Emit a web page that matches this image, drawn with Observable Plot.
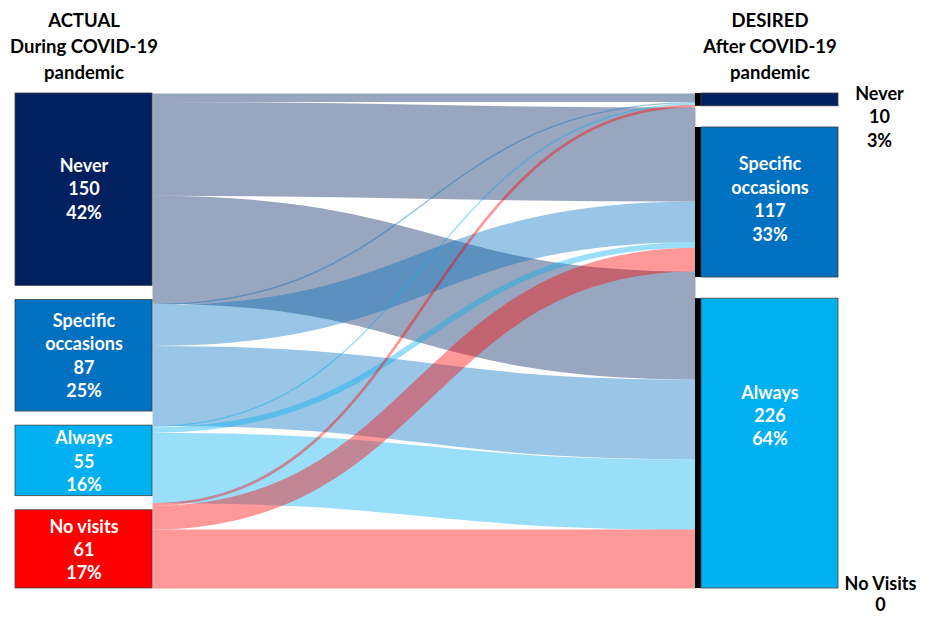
<!DOCTYPE html>
<html><head><meta charset="utf-8">
<script src="https://cdn.jsdelivr.net/npm/d3@7"></script>
<script src="https://cdn.jsdelivr.net/npm/@observablehq/plot@0.6"></script>
<style>body{margin:0;background:#fff;}</style>
</head><body><div id="chart"></div>
<script>
// ---- data ----
const actualLabels = ["Never", "Specific\noccasions", "Always", "No visits"];
const actualCounts = [150, 87, 55, 61];
const actualPct = ["42%", "25%", "16%", "17%"];
const desiredLabels = ["Never", "Specific\noccasions", "Always", "No Visits"];
const desiredCounts = [10, 117, 226, 0];
const desiredPct = ["3%", "33%", "64%", ""];
const categoryColors = ["#002060", "#0070C0", "#00B0F0", "#FF0000"];
// flows from each ACTUAL category to DESIRED [Never, Specific, Always, No Visits]
const flowFromNever = [6, 67, 77, 0];
const flowFromSpecific = [1, 29, 57, 0];
const flowFromAlways = [1, 4, 50, 0];
const flowFromNoVisits = [2, 17, 42, 0];
const headerActual = "ACTUAL\nDuring COVID-19\npandemic";
const headerDesired = "DESIRED\nAfter COVID-19\npandemic";

// ---- layout ----
const W = 933, H = 618, mt = 93, mb = 30, ml = 15, mr = 95;
const gap = 11;           // gap between nodes, in respondent units
const nw = 0.1665;        // node width (fraction of x range)
const sw = 0.0073;        // black strip width
const flows = [flowFromNever, flowFromSpecific, flowFromAlways, flowFromNoVisits];
const total = d3.sum(actualCounts);

let acc = 0;
const leftNodes = actualCounts.map((v, i) => {
  const n = {y1: acc, y2: acc + v, color: categoryColors[i],
    label: `${actualLabels[i]}\n${v}\n${actualPct[i]}`};
  acc += v + gap;
  return n;
});
const D = acc - gap;
const nonZeroRight = desiredCounts.filter(v => v > 0).length;
const gapR = (D - total) / (nonZeroRight - 1);
acc = 0;
const rightNodes = desiredCounts.map((v, i) => {
  if (i > 0 && v > 0) acc += gapR;
  const n = {y1: acc, y2: acc + v, v, color: categoryColors[i], i,
    label: v > 0 ? `${desiredLabels[i]}\n${v}\n${desiredPct[i]}` : `${desiredLabels[i]}\n${v}`};
  acc += v;
  return n;
});

const k = (H - mt - mb) / D;   // px per unit
const f = D / total;            // ribbons fill the whole column
const links = [];
flows.forEach((row, s) => row.forEach((v, t) => { if (v > 0) links.push({s, t, v}); }));
let lo = 0;
links.forEach(l => { l.ly = lo + l.v * f / 2; lo += l.v * f; });
let ro = 0;
[...links].sort((a, b) => a.t - b.t || a.s - b.s).forEach(l => { l.ry = ro + l.v * f / 2; ro += l.v * f; });

const font = "Lato, 'Open Sans', sans-serif";
const chart = Plot.plot({
  width: W, height: H,
  marginTop: mt, marginBottom: mb, marginLeft: ml, marginRight: mr,
  x: {domain: [0, 1], axis: null},
  y: {domain: [0, D], reverse: true, axis: null},
  color: {type: "identity"},
  style: {fontFamily: font, background: "#fff", overflow: "visible"},
  marks: [
    Plot.link(links, {
      x1: nw, x2: 1 - nw - sw, y1: "ly", y2: "ry", curve: "bump-x",
      stroke: d => categoryColors[d.s], strokeOpacity: 0.4,
      strokeWidth: d => d.v * f * k
    }),
    Plot.rect(leftNodes, {x1: 0, x2: nw, y1: "y1", y2: "y2", fill: "color", stroke: "#404040", strokeWidth: 0.8}),
    Plot.rect(rightNodes.filter(d => d.v > 0), {x1: 1 - nw - sw, x2: 1 - nw, y1: "y1", y2: "y2", fill: "#000"}),
    Plot.rect(rightNodes.filter(d => d.v > 0), {x1: 1 - nw, x2: 1, y1: "y1", y2: "y2", fill: "color", stroke: "#404040", strokeWidth: 0.8}),
    Plot.text(leftNodes, {x: nw / 2, y: d => d.y1 + (d.y2 - d.y1) * 0.49, text: "label", fill: "#fff",
      fontSize: 18, fontWeight: "bold", lineHeight: 1.3}),
    Plot.text(rightNodes.filter(d => d.v > 20), {x: 1 - nw / 2,
      y: d => d.y1 + (d.y2 - d.y1) * (d.i === 2 ? 0.4 : 0.47), text: "label", fill: "#fff",
      fontSize: 18, fontWeight: "bold", lineHeight: 1.3}),
    Plot.text(rightNodes.filter(d => d.v > 0 && d.v <= 20), {x: 1, y: "y1", dx: 41, dy: -11, lineAnchor: "top", text: "label",
      fill: "#000", fontSize: 18, fontWeight: "bold", lineHeight: 1.33}),
    Plot.text(rightNodes.filter(d => d.v === 0), {x: 1, y: "y1", dx: 42, dy: -14, lineAnchor: "top", text: "label",
      fill: "#000", fontSize: 18, fontWeight: "bold", lineHeight: 1.2}),
    Plot.text([{x: nw / 2, text: headerActual}, {x: 1 - nw / 2, text: headerDesired}], {
      x: "x", y: 0, dy: -15, lineAnchor: "bottom", text: "text", fill: "#000",
      fontSize: 18.5, fontWeight: "bold", lineHeight: 1.4})
  ]
});
document.getElementById("chart").appendChild(chart);
</script>
</body></html>
